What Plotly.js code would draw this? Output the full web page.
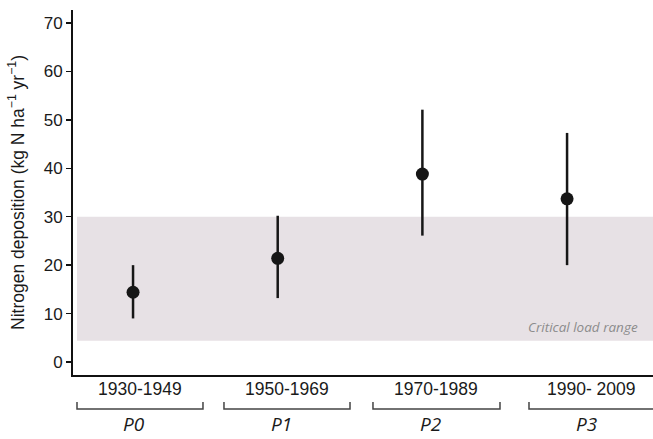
<!DOCTYPE html>
<html>
<head>
<meta charset="utf-8">
<script src="https://cdn.plot.ly/plotly-3.0.1.min.js"></script>
<style>html,body{margin:0;padding:0;background:#fff;}#chart{width:653px;height:439px;}</style>
</head>
<body>
<div id="chart"></div>
<script>
// ---- data ----
var periods = ['P0', 'P1', 'P2', 'P3'];
var yearRanges = ['1930-1949', '1950-1969', '1970-1989', '1990- 2009'];
var meanDeposition = [14.4, 21.4, 38.8, 33.7];
var upperDeposition = [20.0, 30.2, 52.1, 47.3];
var lowerDeposition = [9.0, 13.2, 26.1, 20.0];
var criticalLoad = [4.4, 30.0];
var yTicks = [0, 10, 20, 30, 40, 50, 60, 70];

// ---- layout helpers (positions, not data) ----
var bracketX = [[0.0069, 0.2241], [0.2603, 0.4776], [0.5172, 0.7362], [0.7862, 1.0034]];
var periodNameShift = -0.010;

var errPlus = meanDeposition.map(function (m, i) { return upperDeposition[i] - m; });
var errMinus = meanDeposition.map(function (m, i) { return m - lowerDeposition[i]; });

var trace = {
  type: 'scatter',
  mode: 'markers',
  x: periods,
  y: meanDeposition,
  marker: { size: 13, color: '#161616' },
  error_y: {
    type: 'data', symmetric: false,
    array: errPlus, arrayminus: errMinus,
    color: '#161616', thickness: 2.5, width: 0
  },
  hoverinfo: 'x+y',
  showlegend: false,
  cliponaxis: false
};

var shapes = [{
  type: 'rect', layer: 'below',
  xref: 'paper', yref: 'y',
  x0: 0.0069, x1: 1, y0: criticalLoad[0], y1: criticalLoad[1],
  fillcolor: '#e7e1e5', line: { width: 0 }
}];
var annotations = [];
bracketX.forEach(function (b, i) {
  shapes.push({
    type: 'path', xref: 'paper', yref: 'paper',
    path: 'M ' + b[0] + ' -0.074 L ' + b[0] + ' -0.0932 L ' + b[1] + ' -0.0932 L ' + b[1] + ' -0.074',
    line: { color: '#444', width: 1.5 }
  });
  var c = (b[0] + b[1]) / 2;
  annotations.push({
    xref: 'paper', yref: 'paper', x: c, y: -0.0384,
    xanchor: 'center', yanchor: 'middle', showarrow: false,
    text: yearRanges[i],
    font: { family: 'Liberation Sans, Arial, sans-serif', size: 17.5, color: '#1a1a1a' }
  });
  annotations.push({
    xref: 'paper', yref: 'paper', x: c + periodNameShift, y: -0.134,
    xanchor: 'center', yanchor: 'middle', showarrow: false,
    text: '<i>' + periods[i] + '</i>',
    font: { family: 'Open Sans, sans-serif', size: 19, color: '#1a1a1a' }
  });
});
annotations.push({
  xref: 'paper', yref: 'y', x: 0.9776, y: 7.2,
  xanchor: 'right', yanchor: 'middle', showarrow: false,
  text: '<i>Critical load range</i>',
  font: { family: 'Open Sans, sans-serif', size: 13.5, color: '#8c8c8c' }
});

var layout = {
  width: 653, height: 439,
  margin: { l: 73, r: 0, t: 10, b: 64, pad: 0 },
  paper_bgcolor: '#fff', plot_bgcolor: '#fff',
  font: { family: 'Liberation Sans, Arial, sans-serif', color: '#1a1a1a' },
  xaxis: {
    type: 'category', range: [-0.415, 3.594],
    showline: true, linecolor: '#111', linewidth: 2,
    showticklabels: false, ticks: '', showgrid: false, zeroline: false, fixedrange: true
  },
  yaxis: {
    range: [-2.68, 72.68],
    tickvals: yTicks,
    ticks: 'outside', ticklen: 5, tickwidth: 1.5, tickcolor: '#111',
    showline: true, linecolor: '#111', linewidth: 2,
    showgrid: false, zeroline: false,
    tickfont: { size: 17, color: '#1a1a1a' },
    title: {
      text: 'Nitrogen deposition (kg N ha<sup>−1</sup> yr<sup>−1</sup>)',
      font: { size: 17.5, color: '#1a1a1a' },
      standoff: 15
    },
    automargin: false, fixedrange: true
  },
  shapes: shapes,
  annotations: annotations
};

Plotly.newPlot('chart', [trace], layout, { displayModeBar: false, staticPlot: true });
</script>
</body>
</html>
